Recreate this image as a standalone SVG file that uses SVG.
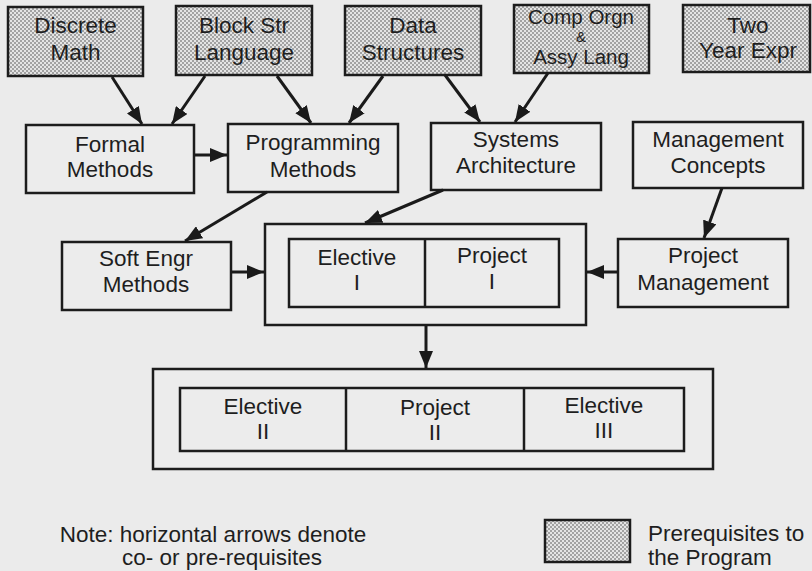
<svg xmlns="http://www.w3.org/2000/svg" width="812" height="571" viewBox="0 0 812 571">
<style>
.bg{fill:#ebebeb}
.box{fill:#ececec;stroke:#1c1c1c;stroke-width:2.5}
.pre{fill:url(#stip);stroke:#1c1c1c;stroke-width:2.5}
.t{font-family:"Liberation Sans",Arial,Helvetica,sans-serif;font-size:22.5px;fill:#1e1e1e;text-anchor:middle}
.s{font-size:20.5px}
.n{font-family:"Liberation Sans",Arial,Helvetica,sans-serif;font-size:22.5px;fill:#1e1e1e}
.c line{stroke:#1a1a1a;stroke-width:3;marker-end:url(#ah)}
</style>
<defs>
<pattern id="stip" width="4" height="4" patternUnits="userSpaceOnUse">
<rect width="4" height="4" fill="#e4e4e4"/>
<rect width="2" height="2" fill="#a2a2a2"/>
<rect x="2" y="2" width="2" height="2" fill="#a2a2a2"/>
</pattern>
<marker id="ah" markerUnits="userSpaceOnUse" markerWidth="18" markerHeight="14" refX="17" refY="7" orient="auto">
<path d="M0,0 L17,7 L0,14 z" fill="#1a1a1a"/>
</marker>
</defs>
<rect class="bg" width="812" height="571"/>

<g id="discrete-math"><rect class="pre" x="8" y="7" width="135" height="69"/><text class="t" x="75.5" y="33">Discrete</text><text class="t" x="75.5" y="60">Math</text></g>
<g id="block-str"><rect class="pre" x="176" y="6" width="136" height="69"/><text class="t" x="244" y="33">Block Str</text><text class="t" x="244" y="60">Language</text></g>
<g id="data-structures"><rect class="pre" x="345" y="6" width="136" height="69"/><text class="t" x="413" y="33">Data</text><text class="t" x="413" y="60">Structures</text></g>
<g id="comp-orgn"><rect class="pre" x="514" y="5" width="135" height="68"/><text class="t s" x="581" y="24">Comp Orgn</text><text class="t" x="581" y="42" style="font-size:15px">&amp;</text><text class="t s" x="581" y="64">Assy Lang</text></g>
<g id="two-year"><rect class="pre" x="683" y="5" width="127" height="67"/><text class="t" x="748" y="33">Two</text><text class="t" x="748" y="58">Year Expr</text></g>

<g id="formal-methods"><rect class="box" x="26" y="125" width="168" height="68"/><text class="t" x="110" y="152">Formal</text><text class="t" x="110" y="177">Methods</text></g>
<g id="programming-methods"><rect class="box" x="228" y="124" width="170" height="68"/><text class="t" x="313" y="150">Programming</text><text class="t" x="313" y="177">Methods</text></g>
<g id="systems-architecture"><rect class="box" x="431" y="123" width="170" height="67"/><text class="t" x="516" y="147">Systems</text><text class="t" x="516" y="173">Architecture</text></g>
<g id="management-concepts"><rect class="box" x="633" y="122" width="170" height="66"/><text class="t" x="718" y="147">Management</text><text class="t" x="718" y="173">Concepts</text></g>

<g id="soft-engr"><rect class="box" x="62" y="242" width="169" height="68"/><text class="t" x="146" y="266">Soft Engr</text><text class="t" x="146" y="292">Methods</text></g>
<g id="block-1"><rect class="box" x="265" y="224" width="321" height="101"/><rect class="box" x="289" y="239" width="270" height="68"/><line x1="425" y1="239" x2="425" y2="307" stroke="#1c1c1c" stroke-width="2.5"/><text class="t" x="357" y="265">Elective</text><text class="t" x="357" y="290">I</text><text class="t" x="492" y="263">Project</text><text class="t" x="492" y="289">I</text></g>
<g id="project-management"><rect class="box" x="618" y="239" width="170" height="68"/><text class="t" x="703" y="263">Project</text><text class="t" x="703" y="290">Management</text></g>

<g id="block-2"><rect class="box" x="153" y="369" width="560" height="100"/><rect class="box" x="180" y="388" width="504" height="63"/><line x1="346" y1="388" x2="346" y2="451" stroke="#1c1c1c" stroke-width="2.5"/><line x1="524" y1="388" x2="524" y2="451" stroke="#1c1c1c" stroke-width="2.5"/><text class="t" x="263" y="414">Elective</text><text class="t" x="263" y="439">II</text><text class="t" x="435" y="415">Project</text><text class="t" x="435" y="440">II</text><text class="t" x="604" y="413">Elective</text><text class="t" x="604" y="438">III</text></g>

<g id="connectors" class="c">
<line x1="112" y1="77" x2="142" y2="124"/>
<line x1="205" y1="76" x2="172" y2="124"/>
<line x1="277" y1="76" x2="311" y2="123"/>
<line x1="383" y1="76" x2="349" y2="123"/>
<line x1="194" y1="155" x2="227" y2="155"/>
<line x1="445" y1="75" x2="480" y2="122"/>
<line x1="548" y1="73" x2="515" y2="122"/>
<line x1="267" y1="192" x2="185" y2="241"/>
<line x1="443" y1="190" x2="365" y2="223"/>
<line x1="231" y1="272" x2="264" y2="272"/>
<line x1="722" y1="188" x2="704" y2="238"/>
<line x1="618" y1="272" x2="587" y2="272"/>
<line x1="426" y1="325" x2="426" y2="368"/>
</g>

<g id="legend">
<text class="n" x="213" y="542" text-anchor="middle">Note: horizontal arrows denote</text>
<text class="n" x="222" y="565" text-anchor="middle">co- or pre-requisites</text>
<rect class="pre" x="545" y="520" width="85" height="42"/>
<text class="n" x="648" y="541">Prerequisites to</text>
<text class="n" x="648" y="565">the Program</text>
</g>
</svg>
